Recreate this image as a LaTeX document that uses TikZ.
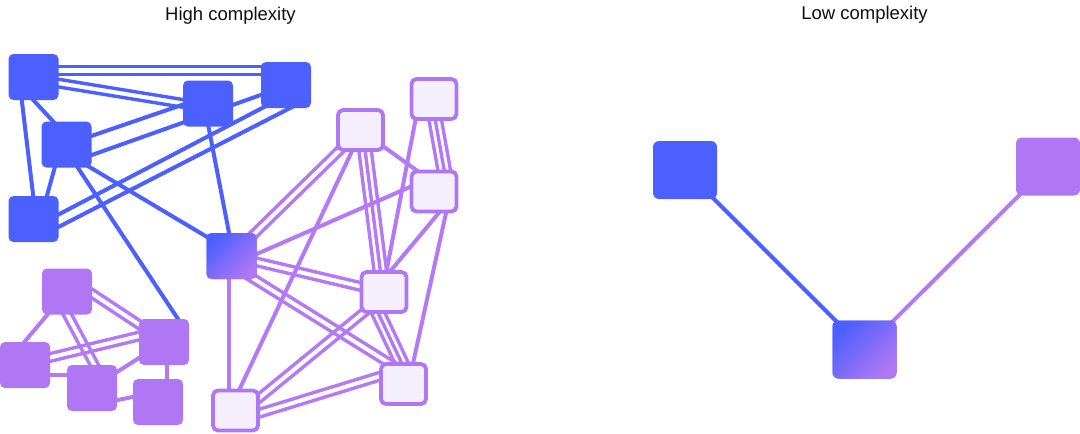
\documentclass[tikz,border=0pt]{standalone}
\usepackage{fontspec}
\setmainfont{Liberation Sans}
\usetikzlibrary{calc,backgrounds}
\definecolor{cblue}{HTML}{4C5FFF}
\definecolor{cpurple}{HTML}{B077F5}
\definecolor{cedge}{HTML}{B47AF5}
\definecolor{clight}{HTML}{F5EFFD}
\definecolor{ctext}{HTML}{111111}
\newcommand\pedge[6]{%
  \coordinate (pA) at ([shift={(#4)}]#3.center);
  \coordinate (pB) at ([shift={(#6)}]#5.center);
  \foreach \off in {#2}{\draw[#1] ($(pA)!\off pt!90:(pB)$) -- ($(pB)!\off pt!-90:(pA)$);}%
}
\tikzset{
  bnode/.style={rectangle, rounded corners=5pt, fill=cblue, minimum width=50pt, minimum height=46pt, inner sep=0pt, outer sep=0pt},
  pnode/.style={bnode, fill=cpurple},
  lnode/.style={rectangle, rounded corners=5pt, draw=cpurple, line width=3.8pt, fill=clight, minimum width=45pt, minimum height=40pt, inner sep=0pt},
  gnode/.style={bnode, top color=cblue, bottom color=cpurple, shading angle=45},
  bignode/.style={minimum width=64pt, minimum height=58pt, rounded corners=6pt},
  be/.style={draw=cblue, line width=4pt},
  bm/.style={draw=cblue, line width=3.4pt},
  pe/.style={draw=cedge, line width=4pt},
  pm/.style={draw=cedge, line width=3.4pt},
  title/.style={anchor=base, text=ctext, font=\fontsize{18.5}{21}\selectfont, inner sep=0pt}
}
\begin{document}
\begin{tikzpicture}[x=1pt,y=-1pt]
\useasboundingbox (0,0) rectangle (1080,434);
% titles
\node[title] (t1) at (230.5,20.5) {High complexity};
\node[title] (t2) at (864.5,19.5) {Low complexity};
% blue nodes
\node[bnode] (B1) at (33.5,77) {};
\node[bnode] (B2) at (286,85) {};
\node[bnode] (B3) at (208,103.5) {};
\node[bnode] (B4) at (66.5,144.5) {};
\node[bnode] (B5) at (33.5,219) {};
\node[gnode] (G) at (231.5,256) {};
% light nodes
\node[lnode] (L1) at (360.5,130) {};
\node[lnode] (L2) at (434,99) {};
\node[lnode] (L3) at (434,191.5) {};
\node[lnode] (L4) at (384,292) {};
\node[lnode] (L5) at (403.5,384) {};
\node[lnode] (L6) at (235.5,410.5) {};
% purple nodes
\node[pnode] (P1) at (67,291.5) {};
\node[pnode] (P2) at (164,342) {};
\node[pnode] (P3) at (25,365) {};
\node[pnode] (P4) at (92,388) {};
\node[pnode] (P5) at (158,402) {};
% right side
\node[bnode, bignode] (RB) at (685,170) {};
\node[pnode, bignode] (RP) at (1048,166.5) {};
\node[gnode, bignode] (RG) at (864.5,349.5) {};
\begin{pgfonlayer}{background}
\fill[white] (0,0) rectangle (1080,434);
% blue edges
\pedge{bm}{-3.8,3.8}{B1}{0,-6.5}{B2}{0,-14.5}
\pedge{bm}{-3.8,3.8}{B1}{0,2}{B3}{0,4}
\pedge{be}{0}{B1}{-14.5,0}{B5}{2.5,0}
\pedge{be}{0}{B1}{-21.5,0}{B4}{8,0}
\pedge{be}{0}{B4}{-5.4,0}{B5}{7,0}
\pedge{be}{0}{B4}{0,0}{B3}{0,-7.5}
\pedge{be}{0}{B4}{0,19.5}{B2}{0,1}
\pedge{be}{0}{B5}{0,8.6}{B2}{-10,15.8}
\pedge{be}{0}{B5}{11.5,14.9}{B2}{10,20}
\pedge{be}{0}{B3}{-4,0}{G}{2,0}
\pedge{be}{0}{B4}{0,8.8}{G}{0,-4.5}
\pedge{be}{0}{B4}{-4,0}{P2}{16,-20}
% purple edges, right cluster
\pedge{pm}{-3.8,3.8}{G}{0,0}{L1}{0,0}
\pedge{pe}{0}{G}{0,9}{L3}{0,-15}
\pedge{pm}{-3.8,3.8}{G}{0,0}{L4}{0,0}
\pedge{pm}{-3.8,3.8}{G}{0,9}{L5}{0,-12}
\pedge{pe}{0}{G}{-3,0}{L6}{-7,0}
\pedge{pm}{-6.2,0,6.2}{L1}{2,0}{L4}{-1,0}
\pedge{pe}{0}{L1}{0,0}{L3}{0,-8.6}
\pedge{pe}{0}{L6}{-6,0}{L1}{1.5,0}
\pedge{pm}{-6.2,0,6.2}{L2}{-2.5,0}{L3}{14,0}
\pedge{pe}{0}{L2}{-14.5,0}{L4}{-1.5,0}
\pedge{pe}{0}{L3}{11,14}{L4}{-11,0}
\pedge{pe}{0}{L3}{16.7,0}{L5}{5,0}
\pedge{pm}{-6.2,0,6.2}{L4}{-15.7,0}{L5}{8,0}
\pedge{pm}{-3.8,3.8}{L6}{0,7}{L4}{0,4}
\pedge{pm}{-3.8,3.8}{L6}{0,10}{L5}{0,-15}
% purple cluster
\pedge{pm}{-3.8,3.8}{P1}{0,-14.5}{P2}{0,-1}
\pedge{pe}{0}{P1}{0,0}{P3}{-15,-6}
\pedge{pm}{-3.8,3.8}{P1}{-12,0}{P4}{14.7,0}
\pedge{pm}{-3.8,3.8}{P3}{0,-1.5}{P2}{0,-12}
\pedge{pe}{0}{P3}{0,10}{P4}{0,-13}
\pedge{pe}{0}{P4}{0,0}{P2}{0,0}
\pedge{pe}{0}{P4}{0,17}{P5}{0,-10}
\pedge{pe}{0}{P2}{2.7,0}{P5}{8.7,0}
% right side
\draw[be] (RB.center) -- (RG.center);
\draw[pe] (RP.center) -- (RG.center);
\end{pgfonlayer}
\end{tikzpicture}
\end{document}
